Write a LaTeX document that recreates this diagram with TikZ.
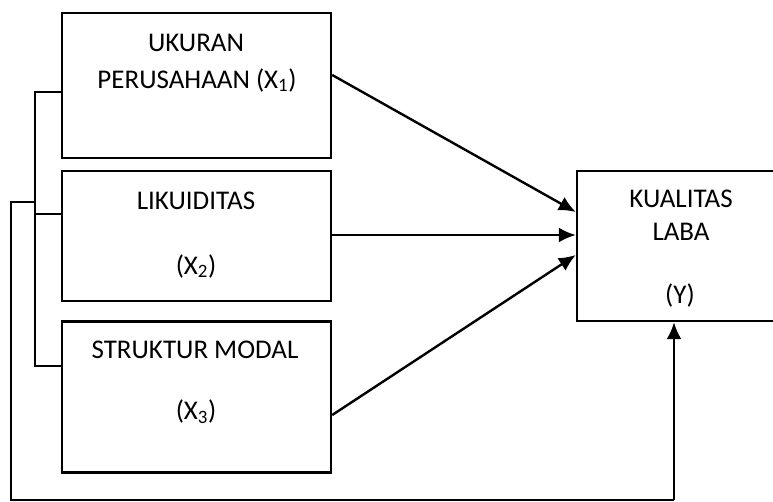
\documentclass[tikz,border=0pt]{standalone}
\usepackage{fontspec}
\setmainfont{Carlito}
\usetikzlibrary{positioning}
\usetikzlibrary{arrows.meta,calc}

\begin{document}
\begin{tikzpicture}[x=1pt,y=-1pt,
    box/.style={draw,line width=2.4pt,inner sep=0pt},
    lbl/.style={font=\fontsize{27}{31}\selectfont,inner sep=0pt},
    arr/.style={line width=2.4pt,-{Latex[length=17pt,width=15pt]}},
    link/.style={line width=1.8pt}]
    \useasboundingbox (0,0) rectangle (773,501);
    % variable boxes
    \node[box,minimum width=269pt,minimum height=145pt] (ukuran) at (196.5,85.5) {};
    \node[box,minimum width=269pt,minimum height=130pt] (likuid) at (196.5,236) {};
    \node[box,minimum width=269pt,minimum height=151pt] (struktur) at (196.5,397) {};
    \node[box,minimum width=200pt,minimum height=150pt] (laba) at (677,246) {};
    % labels
    \node[lbl] (t1a) at (196,43) {UKURAN};
    \node[lbl] (t1b) at (197,80) {PERUSAHAAN (X\textsubscript{1})};
    \node[lbl] (t2a) at (196,201) {LIKUIDITAS};
    \node[lbl] (t2b) at (196,266) {(X\textsubscript{2})};
    \node[lbl] (t3a) at (195,350) {STRUKTUR MODAL};
    \node[lbl] (t3b) at (196,412) {(X\textsubscript{3})};
    \node[lbl] (tya) at (681,199) {KUALITAS};
    \node[lbl] (tyb) at (681,232) {LABA};
    \node[lbl] (tyc) at (680,295) {(Y)};
    % bracket
    \coordinate (b1) at (35,92);
    \coordinate (b2) at (35,214);
    \coordinate (b3) at (35,366);
    \coordinate (bj) at (35,202);
    \coordinate (o1) at (11,202);
    \coordinate (o2) at (11,500);
    \coordinate (yin) at ([xshift=-3pt]laba.south);
    \coordinate (o3) at (o2 -| yin);
    \draw[link] ([yshift=-6.5pt]ukuran.west) -- (b1) -- (b3) -- ([yshift=31pt]struktur.west);
    \draw[link] (b2) -- ([yshift=22pt]likuid.west);
    \draw[link] (bj) -- (o1) -- (o2) -- (o3);
    \draw[arr] (o3) -- (yin);
    % arrows
    \draw[arr] ([yshift=10.5pt]ukuran.east) -- ([yshift=34pt]laba.west);
    \draw[arr] ([yshift=1pt]likuid.east) -- ([yshift=11pt]laba.west);
    \draw[arr] ([yshift=-18pt]struktur.east) -- ([yshift=-9pt]laba.west);
\end{tikzpicture}
\end{document}
